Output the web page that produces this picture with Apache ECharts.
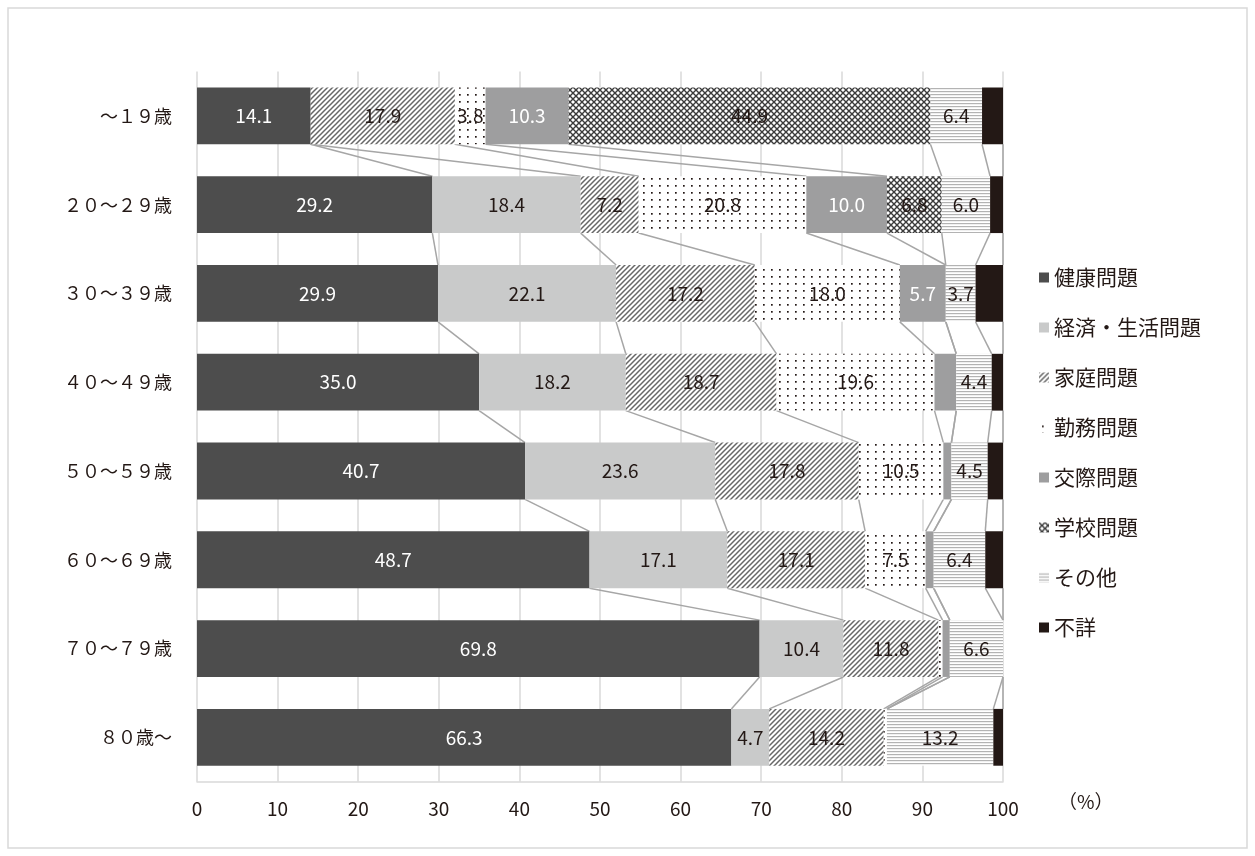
<!DOCTYPE html>
<html>
<head>
<meta charset="utf-8">
<script src="https://cdn.jsdelivr.net/npm/echarts@6/dist/echarts.min.js"></script>
<style>
  html, body { margin: 0; padding: 0; background: #fff; }
  #chart { width: 1255px; height: 856px; }
</style>
</head>
<body>
<div id="chart"></div>
<script>
// 年齢階級
var categories = ['～１９歳', '２０～２９歳', '３０～３９歳', '４０～４９歳', '５０～５９歳', '６０～６９歳', '７０～７９歳', '８０歳～'];
// 原因・動機別の構成比 (%)
var health   = [14.1, 29.2, 29.9, 35.0, 40.7, 48.7, 69.8, 66.3];
var economy  = [0,    18.4, 22.1, 18.2, 23.6, 17.1, 10.4, 4.7];
var family   = [17.9, 7.2,  17.2, 18.7, 17.8, 17.1, 11.8, 14.2];
var work     = [3.8,  20.8, 18.0, 19.6, 10.5, 7.5,  0.5,  0.4];
var relation = [10.3, 10.0, 5.7,  2.7,  1.0,  1.0,  0.9,  0];
var school   = [44.9, 6.8,  0,    0,    0,    0,    0,    0];
var other    = [6.4,  6.0,  3.7,  4.4,  4.5,  6.4,  6.6,  13.2];
var unknown  = [2.6,  1.6,  3.4,  1.4,  1.9,  2.2,  0,    1.2];
var seriesNames = ['健康問題', '経済・生活問題', '家庭問題', '勤務問題', '交際問題', '学校問題', 'その他', '不詳'];
var xTicks = [0, 10, 20, 30, 40, 50, 60, 70, 80, 90, 100];

var TXT = '#231815';
var FONT = '"Noto Sans CJK JP", "Noto Sans", sans-serif';

// 塗りパターン
var makePattern = function (w, h, draw) {
    var c = document.createElement('canvas');
    c.width = w; c.height = h;
    var ctx = c.getContext('2d');
    ctx.fillStyle = '#fff';
    ctx.fillRect(0, 0, w, h);
    draw(ctx, w, h);
    return { image: c, repeat: 'repeat' };
};
var hatch = makePattern(5, 5, function (ctx, w, h) {
    ctx.strokeStyle = '#676767';
    ctx.lineWidth = 1.5;
    ctx.beginPath();
    ctx.moveTo(-1, h + 1); ctx.lineTo(w + 1, -1);
    ctx.moveTo(-1, 1); ctx.lineTo(1, -1);
    ctx.moveTo(w - 1, h + 1); ctx.lineTo(w + 1, h - 1);
    ctx.stroke();
});
var dots = makePattern(8, 7, function (ctx) {
    ctx.fillStyle = TXT;
    ctx.fillRect(3, 3, 1.7, 1.7);
});
var lattice = makePattern(6, 6, function (ctx, w, h) {
    ctx.strokeStyle = '#3a3a3a';
    ctx.lineWidth = 1.4;
    ctx.beginPath();
    ctx.moveTo(0, 0); ctx.lineTo(w, h);
    ctx.moveTo(0, h); ctx.lineTo(w, 0);
    ctx.stroke();
});
var stripes = makePattern(4, 3, function (ctx) {
    ctx.fillStyle = '#b3b3b3';
    ctx.fillRect(0, 1, 4, 1.2);
});

var colors = ['#4d4d4d', '#c9caca', hatch, dots, '#9e9e9f', lattice, stripes, TXT];
var labelColors = ['#fff', TXT, TXT, TXT, '#fff', TXT, TXT, '#fff'];
var showLabel = [true, true, true, true, true, true, true, false];
var allData = [health, economy, family, work, relation, school, other, unknown];

// 各系列の右端 (累積値)
var ends = categories.map(function (c, i) {
    var s = 0;
    return allData.map(function (arr) { s += arr[i]; return +s.toFixed(2); });
});

var BAR_GAP = 0.36;

var series = seriesNames.map(function (name, k) {
    return {
        name: name,
        type: 'bar',
        stack: 'total',
        barCategoryGap: (BAR_GAP * 100) + '%',
        data: allData[k],
        itemStyle: { color: colors[k] },
        label: {
            show: showLabel[k],
            position: 'inside',
            color: labelColors[k],
            fontSize: 19,
            fontFamily: FONT,
            formatter: function (p) { return p.value >= 3 ? p.value.toFixed(1) : ''; }
        },
        emphasis: { disabled: true }
    };
});

// 区分線 (Excelの系列線)
series.push({
    type: 'custom',
    silent: true,
    z: 1,
    encode: { x: 0, y: 1 },
    data: categories.slice(0, -1).map(function (c, i) { return [0, i]; }),
    renderItem: function (params, api) {
        var i = params.dataIndex;
        var barH = api.size([0, 1])[1] * (1 - BAR_GAP);
        var children = [];
        for (var k = 0; k < seriesNames.length; k++) {
            var p1 = api.coord([ends[i][k], i]);
            var p2 = api.coord([ends[i + 1][k], i + 1]);
            children.push({
                type: 'line',
                shape: { x1: p1[0], y1: p1[1] + barH / 2, x2: p2[0], y2: p2[1] - barH / 2 },
                style: { stroke: '#a6a6a6', lineWidth: 1.5 }
            });
        }
        return { type: 'group', children: children };
    }
});

var myChart = echarts.init(document.getElementById('chart'), null, { renderer: 'canvas' });
myChart.setOption({
    backgroundColor: '#fff',
    animation: false,
    textStyle: { fontFamily: FONT },
    grid: { left: 197, right: 252, top: 71.5, bottom: 74.3, containLabel: false },
    legend: {
        data: seriesNames,
        orient: 'vertical',
        left: 1034,
        top: 262,
        icon: 'rect',
        itemWidth: 10,
        itemHeight: 10,
        itemGap: 29,
        textStyle: { fontSize: 21, color: TXT, fontFamily: FONT }
    },
    xAxis: {
        type: 'value',
        min: xTicks[0],
        max: xTicks[xTicks.length - 1],
        interval: xTicks[1] - xTicks[0],
        axisLine: { show: true, lineStyle: { color: '#d9d9d9', width: 1.5 } },
        axisTick: { show: false },
        splitLine: { show: true, lineStyle: { color: '#d9d9d9', width: 1.5 } },
        axisLabel: { fontSize: 19, color: TXT, margin: 18, fontFamily: FONT }
    },
    yAxis: {
        type: 'category',
        inverse: true,
        data: categories,
        axisLine: { show: false },
        axisTick: { show: false },
        axisLabel: { fontSize: 18, color: TXT, margin: 25, fontFamily: FONT }
    },
    graphic: [
        {
            type: 'rect',
            shape: { x: 8, y: 8, width: 1239, height: 840 },
            style: { fill: 'none', stroke: '#d9d9d9', lineWidth: 1.5 },
            silent: true
        },
        {
            type: 'text',
            left: 1058,
            top: 792,
            style: { text: '（%）', fontSize: 19, fill: TXT, fontFamily: FONT }
        }
    ],
    series: series
});
</script>
</body>
</html>
